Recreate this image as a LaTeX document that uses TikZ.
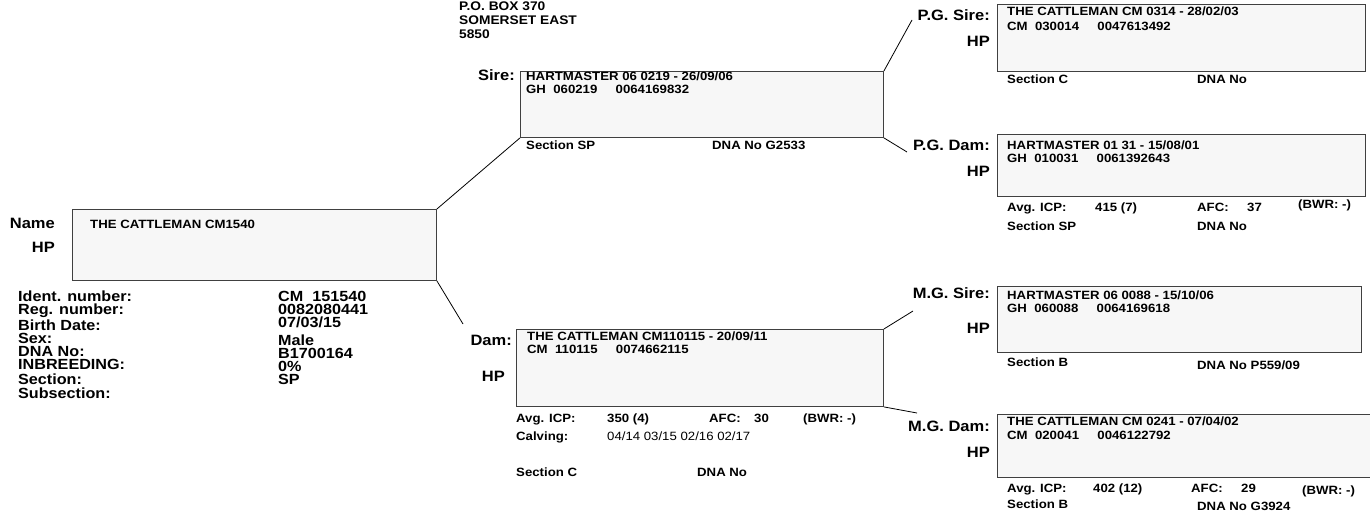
\documentclass[tikz,border=0pt]{standalone}
\usepackage{fontspec}
\setmainfont{Liberation Sans}[FakeStretch=1.1]
\usepackage{tikz}

\begin{document}
\begin{tikzpicture}[x=1pt,y=-1pt,
  box/.style={draw=black!75,fill=black!3,line width=0.9pt,inner sep=0pt,anchor=north west},
  big/.style={font=\fontsize{14.7}{16}\selectfont\bfseries,inner sep=0pt},
  txt/.style={font=\fontsize{12}{14}\selectfont\bfseries,inner sep=0pt,anchor=base west},
  plain/.style={font=\fontsize{12}{14}\selectfont,inner sep=0pt,anchor=base west},
  lbl/.style={big,font=\fontsize{15}{16}\selectfont\bfseries,anchor=base east},
  info/.style={big,anchor=base west}]
  \useasboundingbox (0,0) rectangle (1370,511);
  % address
  \node[txt,font=\fontsize{12.5}{14}\selectfont\bfseries] (addr1) at (459,10.5) {P.O. BOX 370};
  \node[txt,font=\fontsize{12.5}{14}\selectfont\bfseries] (addr2) at (459,24.3) {SOMERSET EAST};
  \node[txt,font=\fontsize{12.5}{14}\selectfont\bfseries] (addr3) at (459,38) {5850};
  % animal
  \node[box,minimum width=364pt,minimum height=71pt] (main) at (72,209) {};
  \node[lbl] (namelbl) at (55,228) {Name};
  \node[lbl] (namehp) at (55,252) {HP};
  \node[txt] (mainname) at (90,228) {THE CATTLEMAN CM1540};
  \node[info] (i1) at (18,301) {Ident. number:};
  \node[info] (i2) at (18,314) {Reg. number:};
  \node[info] (i3) at (18,330) {Birth Date:};
  \node[info] (i4) at (18,343) {Sex:};
  \node[info] (i5) at (18,356) {DNA No:};
  \node[info] (i6) at (18,369) {INBREEDING:};
  \node[info] (i7) at (18,384) {Section:};
  \node[info] (i8) at (18,398) {Subsection:};
  \node[info] (v1) at (278,301) {CM\ \ 151540};
  \node[info] (v2) at (278,314) {0082080441};
  \node[info] (v3) at (278,327) {07/03/15};
  \node[info] (v4) at (278,345) {Male};
  \node[info] (v5) at (278,358) {B1700164};
  \node[info] (v6) at (278,371) {0\%};
  \node[info] (v7) at (278,384) {SP};
  % sire
  \node[box,minimum width=363pt,minimum height=66pt] (sire) at (520,71) {};
  \node[lbl] (sirelbl) at (515,81) {Sire:};
  \node[txt] (sire1) at (526,81) {HARTMASTER 06 0219 - 26/09/06};
  \node[txt] (sire2) at (526,93) {GH\ \ 060219\ \ \ \ \ 0064169832};
  \node[txt] (siresec) at (526,149) {Section SP};
  \node[txt] (siredna) at (712,149) {DNA No G2533};
  % dam
  \node[box,minimum width=367pt,minimum height=77pt] (dam) at (516,329) {};
  \node[lbl] (damlbl) at (512,345) {Dam:};
  \node[lbl] (damhp) at (505,381) {HP};
  \node[txt] (dam1) at (527,340) {THE CATTLEMAN CM110115 - 20/09/11};
  \node[txt] (dam2) at (527,353) {CM\ \ 110115\ \ \ \ \ 0074662115};
  \node[txt] (damicp) at (516,422) {Avg. ICP:};
  \node[txt] (damicpv) at (607,422) {350 (4)};
  \node[txt] (damafc) at (709,422) {AFC:};
  \node[txt] (damafcv) at (754,422) {30};
  \node[txt] (dambwr) at (803,422) {(BWR: -)};
  \node[txt] (damcalv) at (516,440) {Calving:};
  \node[plain] (damcalvv) at (607,440) {04/14 03/15 02/16 02/17};
  \node[txt] (damsec) at (516,476) {Section C};
  \node[txt] (damdna) at (697,476) {DNA No};
  % paternal grandsire
  \node[box,minimum width=368pt,minimum height=67pt] (pgsire) at (997,4) {};
  \node[lbl] (pgsirelbl) at (990,21) {P.G. Sire:};
  \node[lbl] (pgsirehp) at (990,47) {HP};
  \node[txt] (pgsire1) at (1007,16) {THE CATTLEMAN CM 0314 - 28/02/03};
  \node[txt] (pgsire2) at (1007,31) {CM\ \ 030014\ \ \ \ \ 0047613492};
  \node[txt] (pgsiresec) at (1007,84) {Section C};
  \node[txt] (pgsiredna) at (1197,84) {DNA No};
  % paternal granddam
  \node[box,minimum width=368pt,minimum height=62pt] (pgdam) at (997,134) {};
  \node[lbl] (pgdamlbl) at (990,150) {P.G. Dam:};
  \node[lbl] (pgdamhp) at (990,176) {HP};
  \node[txt] (pgdam1) at (1007,149) {HARTMASTER 01 31 - 15/08/01};
  \node[txt] (pgdam2) at (1007,162) {GH\ \ 010031\ \ \ \ \ 0061392643};
  \node[txt] (pgdamicp) at (1007,211) {Avg. ICP:};
  \node[txt] (pgdamicpv) at (1095,211) {415 (7)};
  \node[txt] (pgdamafc) at (1197,211) {AFC:};
  \node[txt] (pgdamafcv) at (1247,211) {37};
  \node[txt] (pgdambwr) at (1298,208) {(BWR: -)};
  \node[txt] (pgdamsec) at (1007,230) {Section SP};
  \node[txt] (pgdamdna) at (1197,230) {DNA No};
  % maternal grandsire
  \node[box,minimum width=364pt,minimum height=66pt] (mgsire) at (997,286) {};
  \node[lbl] (mgsirelbl) at (990,298) {M.G. Sire:};
  \node[lbl] (mgsirehp) at (990,333) {HP};
  \node[txt] (mgsire1) at (1007,299) {HARTMASTER 06 0088 - 15/10/06};
  \node[txt] (mgsire2) at (1007,312) {GH\ \ 060088\ \ \ \ \ 0064169618};
  \node[txt] (mgsiresec) at (1007,366) {Section B};
  \node[txt] (mgsiredna) at (1197,369) {DNA No P559/09};
  % maternal granddam
  \node[box,minimum width=378pt,minimum height=63pt] (mgdam) at (997,414) {};
  \node[lbl] (mgdamlbl) at (990,431) {M.G. Dam:};
  \node[lbl] (mgdamhp) at (990,457) {HP};
  \node[txt] (mgdam1) at (1007,425) {THE CATTLEMAN CM 0241 - 07/04/02};
  \node[txt] (mgdam2) at (1007,439) {CM\ \ 020041\ \ \ \ \ 0046122792};
  \node[txt] (mgdamicp) at (1007,492) {Avg. ICP:};
  \node[txt] (mgdamicpv) at (1093,492) {402 (12)};
  \node[txt] (mgdamafc) at (1191,492) {AFC:};
  \node[txt] (mgdamafcv) at (1241,492) {29};
  \node[txt] (mgdambwr) at (1302,494) {(BWR: -)};
  \node[txt] (mgdamsec) at (1007,508) {Section B};
  \node[txt] (mgdamdna) at (1197,510) {DNA No G3924};
  % connectors
  \coordinate (damend) at (463,324);
  \coordinate (pgsireend) at (912,20);
  \coordinate (pgdamend) at (907,152);
  \coordinate (mgsireend) at (913,311);
  \coordinate (mgdamend) at (917,413);
  \draw[line width=0.8pt] (main.north east) -- (sire.south west);
  \draw[line width=0.8pt] (main.south east) -- (damend);
  \draw[line width=0.8pt] (sire.north east) -- (pgsireend);
  \draw[line width=0.8pt] (sire.south east) -- (pgdamend);
  \draw[line width=0.8pt] (dam.north east) -- (mgsireend);
  \draw[line width=0.8pt] (dam.south east) -- (mgdamend);
\end{tikzpicture}
\end{document}
